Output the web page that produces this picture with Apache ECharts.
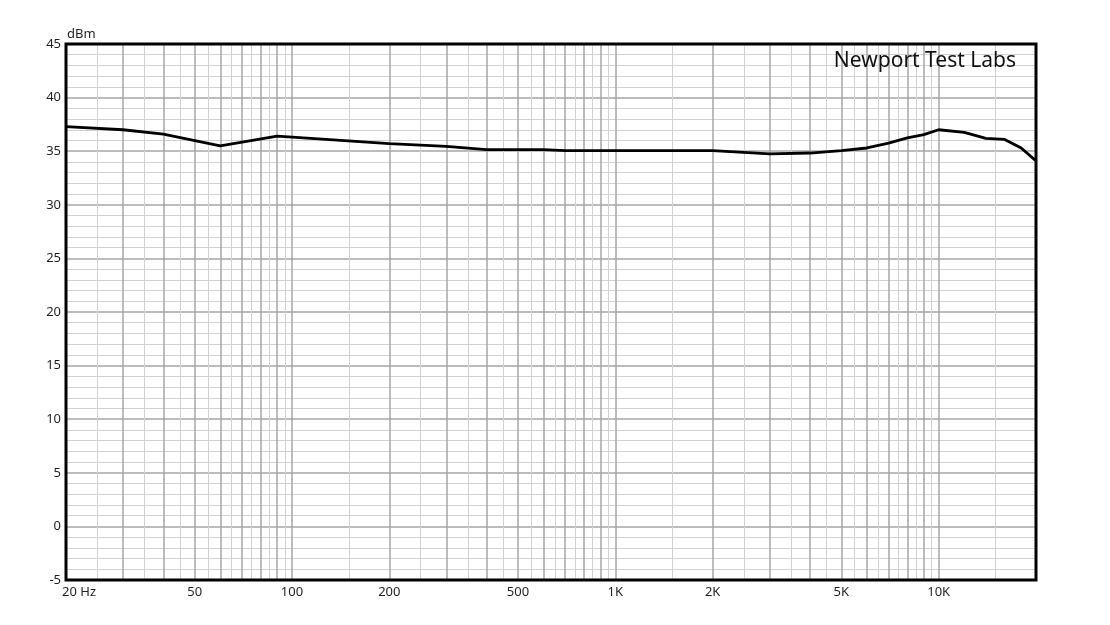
<!DOCTYPE html>
<html>
<head>
<meta charset="utf-8">
<script src="https://cdn.jsdelivr.net/npm/echarts@6/dist/echarts.min.js"></script>
<style>
html,body{margin:0;padding:0;background:#fff;}
#chart{width:1110px;height:625px;}
</style>
</head>
<body>
<div id="chart"></div>
<script>
// Frequency response data (Hz, dBm)
const freqs = [20, 30, 40, 60, 90, 200, 300, 400, 600, 700, 2000, 3000, 4000, 5000, 6000, 7000, 8000, 9000, 10000, 12000, 14000, 16000, 18000, 20000];
const levels = [37.3, 37.0, 36.6, 35.5, 36.4, 35.7, 35.45, 35.15, 35.15, 35.05, 35.05, 34.75, 34.83, 35.05, 35.3, 35.75, 36.25, 36.55, 37.0, 36.75, 36.2, 36.1, 35.3, 34.1];

// Grid frequencies
const majorFreqs = [30, 40, 50, 60, 70, 80, 90, 100, 200, 300, 400, 500, 600, 700, 800, 900, 1000, 2000, 3000, 4000, 5000, 6000, 7000, 8000, 9000, 10000];
const minorFreqs = [25, 35, 45, 55, 65, 75, 85, 95, 150, 250, 350, 450, 550, 650, 750, 850, 950, 1500, 2500, 3500, 4500, 5500, 6500, 7500, 8500, 9500, 15000];

// X tick labels
const labelFreqs = [20, 50, 100, 200, 500, 1000, 2000, 5000, 10000];
const labelTexts = ['20 Hz', '50', '100', '200', '500', '1K', '2K', '5K', '10K'];

const FONT = 'Noto Sans';
const chart = echarts.init(document.getElementById('chart'), null, {renderer: 'canvas'});

function vLines(list, color, width) {
  return list.map(f => ({xAxis: f, lineStyle: {color: color, width: width, type: 'solid'}}));
}

const option = {
  animation: false,
  backgroundColor: '#ffffff',
  title: {
    text: 'Newport Test Labs',
    right: 89,
    top: 46,
    textStyle: {fontFamily: FONT, fontSize: 21, fontWeight: 'normal', color: '#111'}
  },
  grid: {
    left: 66, right: 74, top: 44, bottom: 45, z: 10,
    show: true, borderColor: '#000', borderWidth: 3, backgroundColor: 'transparent'
  },
  xAxis: {
    type: 'log', logBase: 10, min: 20, max: 20000,
    axisLine: {show: false}, axisTick: {show: false}, axisLabel: {show: false},
    splitLine: {show: false}, minorSplitLine: {show: false}
  },
  yAxis: {
    type: 'value', min: -5, max: 45, interval: 5,
    name: 'dBm', nameLocation: 'end', nameGap: 3,
    nameTextStyle: {fontFamily: FONT, fontSize: 13, color: '#231f20', align: 'left', padding: [0, 0, 0, 1]},
    axisLine: {show: false}, axisTick: {show: false},
    axisLabel: {fontFamily: FONT, fontSize: 13, color: '#231f20', margin: 5},
    splitLine: {show: true, lineStyle: {color: '#a6a6a6', width: 1.5}},
    minorTick: {show: false, splitNumber: 5},
    minorSplitLine: {show: true, lineStyle: {color: '#d2d2d2', width: 1}}
  },
  series: [
    {
      type: 'line', data: [], silent: true, z: 1,
      markLine: {
        silent: true, symbol: ['none', 'none'], animation: false,
        label: {show: false},
        data: vLines(minorFreqs, '#d2d2d2', 1).concat(vLines(majorFreqs, '#a6a6a6', 1.5))
      }
    },
    {
      type: 'line', data: [], silent: true, z: 1,
      markLine: {
        silent: true, symbol: ['none', 'none'], animation: false,
        lineStyle: {width: 1, color: 'rgba(0,0,0,0)'},
        label: {
          show: true, position: 'start', distance: 6,
          fontFamily: FONT, fontSize: 13, color: '#231f20',
          formatter: p => labelTexts[labelFreqs.indexOf(p.value)]
        },
        data: labelFreqs.map((f, i) => i === 0
          ? {xAxis: f, label: {offset: [13, 0]}}
          : {xAxis: f})
      }
    },
    {
      name: 'Level', type: 'line', z: 5,
      data: freqs.map((f, i) => [f, levels[i]]),
      showSymbol: false, smooth: false, clip: false,
      lineStyle: {color: '#000', width: 2.8}
    }
  ]
};
chart.setOption(option);
</script>
</body>
</html>
